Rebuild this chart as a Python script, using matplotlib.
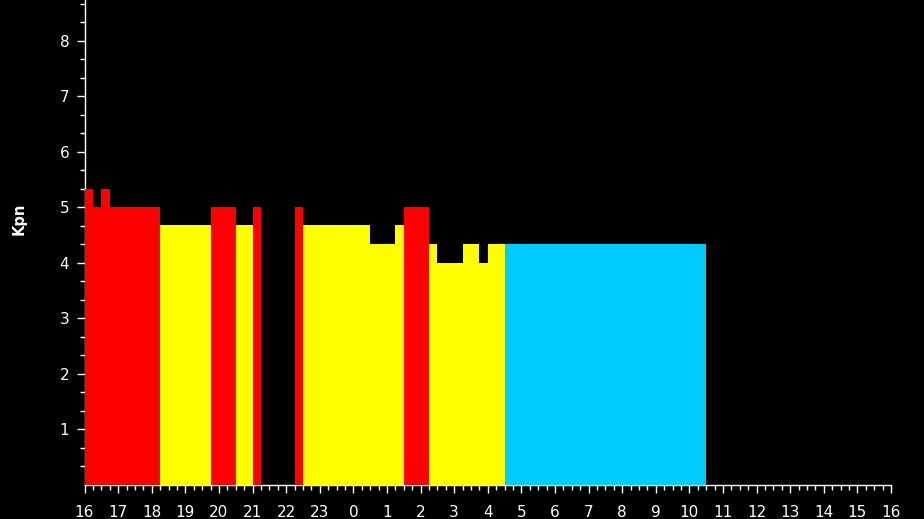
import numpy as np
import matplotlib.pyplot as plt

# Kp por cuartos de hora, empezando a las 16:00
kp_obs = [5.333, 5.0, 5.333, 5.0, 5.0, 5.0, 5.0, 5.0, 5.0,
          4.667, 4.667, 4.667, 4.667, 4.667, 4.667,
          5.0, 5.0, 5.0, 4.667, 4.667, 5.0,
          np.nan, np.nan, np.nan, np.nan,
          5.0, 4.667, 4.667, 4.667, 4.667, 4.667, 4.667, 4.667, 4.667,
          4.333, 4.333, 4.333, 4.667, 5.0, 5.0, 5.0,
          4.333, 4.0, 4.0, 4.0, 4.333, 4.333, 4.0, 4.333, 4.333]
kp_fc = [4.333] * 24  # pronostico
hour_labels = [str((16 + h) % 24) for h in range(25)]

paso = 0.25  # horas
t_obs = np.arange(len(kp_obs)) * paso
t_fc = (len(kp_obs) + np.arange(len(kp_fc))) * paso


def color_kp(v):
    if v >= 5:
        return '#ff0000'
    if v >= 4:
        return '#ffff00'
    return '#00cc00'


fig = plt.figure(figsize=(9.24, 5.19), dpi=100, facecolor='black')
ax = fig.add_axes([84.5 / 924, 34.5 / 519, (891 - 84.5) / 924, 484.5 / 519])
ax.set_facecolor('black')

ax.bar(t_obs, kp_obs, width=paso, align='edge', color=[color_kp(v) for v in kp_obs],
       linewidth=0, zorder=3)
ax.bar(t_fc, kp_fc, width=paso, align='edge', color='#00ccff', linewidth=0, zorder=3)

ax.set_xlim(0, 24)
ax.set_ylim(0, 8.73)
ax.set_xticks(np.arange(25))
ax.set_xticklabels(hour_labels)
ax.set_xticks(np.arange(0, 24.01, 0.25), minor=True)
ax.set_yticks(np.arange(1, 9))
ax.set_yticks(np.arange(1, 27) / 3, minor=True)

for s in ['top', 'right']:
    ax.spines[s].set_visible(False)
for s in ['left', 'bottom']:
    ax.spines[s].set_color('white')
    ax.spines[s].set_linewidth(1.0)

ax.tick_params(which='both', colors='white', width=1.0, direction='out')
ax.tick_params(which='major', length=6, labelsize=11)
ax.tick_params(which='minor', length=3.6)
ax.tick_params(axis='x', which='major', pad=9)
ax.tick_params(axis='y', which='major', pad=5)

ax.set_ylabel('Kpn', color='white', fontsize=10.5, fontweight='bold')
ax.yaxis.set_label_coords(-0.0713, 0.548)

fig.savefig('out.png', dpi=100, facecolor='black')
